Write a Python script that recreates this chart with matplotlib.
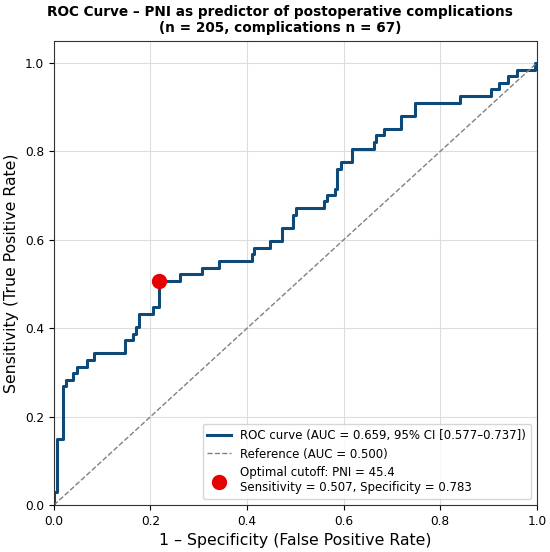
import numpy as np
import matplotlib.pyplot as plt

# ROC points (step curve)
fpr = [0.0, 0.0, 0.007, 0.007, 0.018, 0.018, 0.025, 0.025, 0.04, 0.04, 0.048, 0.048,
       0.068, 0.068, 0.083, 0.083, 0.147, 0.147, 0.163, 0.163, 0.169, 0.169, 0.176, 0.176,
       0.206, 0.206, 0.217, 0.217, 0.262, 0.262, 0.307, 0.307, 0.342, 0.342, 0.41, 0.41,
       0.415, 0.415, 0.448, 0.448, 0.472, 0.472, 0.495, 0.495, 0.502, 0.502, 0.56, 0.56,
       0.565, 0.565, 0.583, 0.583, 0.587, 0.587, 0.594, 0.594, 0.617, 0.617, 0.662, 0.662,
       0.667, 0.667, 0.683, 0.683, 0.719, 0.719, 0.748, 0.748, 0.841, 0.841, 0.906, 0.906,
       0.921, 0.921, 0.941, 0.941, 0.958, 0.958, 0.996, 0.996, 1.0]
tpr = [0.0, 0.030, 0.030, 0.149, 0.149, 0.269, 0.269, 0.284, 0.284, 0.299, 0.299, 0.313,
       0.313, 0.328, 0.328, 0.343, 0.343, 0.373, 0.373, 0.388, 0.388, 0.403, 0.403, 0.433,
       0.433, 0.448, 0.448, 0.507, 0.507, 0.522, 0.522, 0.537, 0.537, 0.552, 0.552, 0.567,
       0.567, 0.582, 0.582, 0.597, 0.597, 0.627, 0.627, 0.657, 0.657, 0.672, 0.672, 0.687,
       0.687, 0.701, 0.701, 0.716, 0.716, 0.761, 0.761, 0.776, 0.776, 0.806, 0.806, 0.821,
       0.821, 0.836, 0.836, 0.851, 0.851, 0.881, 0.881, 0.910, 0.910, 0.925, 0.925, 0.940,
       0.940, 0.955, 0.955, 0.970, 0.970, 0.985, 0.985, 1.0, 1.0]

opt_fpr = 0.217
opt_tpr = 0.507
auc = 0.659
ci = (0.577, 0.737)
cutoff = 45.4

fig = plt.figure(figsize=(5.5, 5.52), dpi=100)
ax = fig.add_axes([0.098, 0.085, 0.878, 0.841])

ax.plot(fpr, tpr, color='#0d4a7a', lw=2.2,
        label=f'ROC curve (AUC = {auc:.3f}, 95% CI [{ci[0]:.3f}\u2013{ci[1]:.3f}])')
ax.plot([0, 1], [0, 1], color='gray', lw=1, ls='--', label='Reference (AUC = 0.500)')
ax.scatter([opt_fpr], [opt_tpr], s=100, color='#e60000', zorder=5,
           label=f'Optimal cutoff: PNI = {cutoff}\nSensitivity = {opt_tpr:.3f}, Specificity = {1-opt_fpr:.3f}')

ax.set_xlim(0, 1)
ax.set_ylim(0, 1.05)
ax.grid(True, color='#dddddd', lw=0.8)
for s in ax.spines.values():
    s.set_color('#333333')
ax.tick_params(labelsize=8.7)
ax.set_xlabel('1 \u2013 Specificity (False Positive Rate)', fontsize=11.3)
ax.set_ylabel('Sensitivity (True Positive Rate)', fontsize=11.3)
fig.text(0.509, 0.991,
         'ROC Curve \u2013 PNI as predictor of postoperative complications\n(n = 205, complications n = 67)',
         ha='center', va='top', fontsize=9.8, fontweight='bold', linespacing=1.15)
ax.legend(loc='lower right', fontsize=8.5)

plt.savefig('out.png')
